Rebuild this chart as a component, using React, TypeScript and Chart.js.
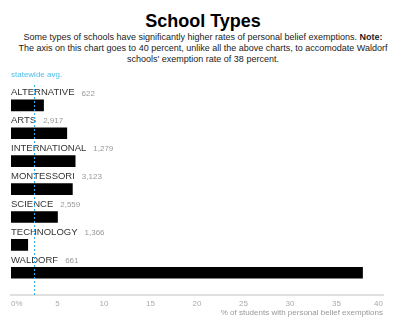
import React, { useEffect, useRef } from "react";
import { Chart, registerables } from "chart.js";

Chart.register(...registerables);

const categories = ["ALTERNATIVE", "ARTS", "INTERNATIONAL", "MONTESSORI", "SCIENCE", "TECHNOLOGY", "WALDORF"];
const schoolCounts = ["622", "2,917", "1,279", "3,123", "2,559", "1,366", "661"];
const exemptionRates = [3.5, 6.0, 6.9, 6.6, 5.0, 1.8, 37.8];
const statewideAvg = 2.5;
const axisMax = 40;
const tickStep = 5;

const FONT = "'Liberation Sans', Arial, Helvetica, sans-serif";

const rowLabelPlugin = {
  id: "rowLabels",
  afterDatasetsDraw(chart: any) {
    const ctx = chart.ctx;
    const meta = chart.getDatasetMeta(0);
    const xs = chart.scales.x;
    const x0 = xs.getPixelForValue(0);
    ctx.save();
    ctx.textBaseline = "middle";
    ctx.textAlign = "left";
    meta.data.forEach((bar: any, i: number) => {
      const y = bar.y - 12.5;
      ctx.font = `9.5px ${FONT}`;
      ctx.fillStyle = "#333";
      ctx.fillText(categories[i], x0, y);
      const w = ctx.measureText(categories[i]).width;
      ctx.font = `8px ${FONT}`;
      ctx.fillStyle = "#999";
      ctx.fillText(schoolCounts[i], x0 + w + 7, y + 0.5);
    });
    const ax = xs.getPixelForValue(statewideAvg);
    const { top, bottom } = chart.chartArea;
    ctx.strokeStyle = "#2fb3e6";
    ctx.lineWidth = 1;
    ctx.setLineDash([2, 2]);
    ctx.beginPath();
    ctx.moveTo(Math.round(ax) + 0.5, top);
    ctx.lineTo(Math.round(ax) + 0.5, bottom + 1);
    ctx.stroke();
    ctx.setLineDash([]);
    ctx.font = `8px ${FONT}`;
    ctx.fillStyle = "#4cbfea";
    ctx.fillText("statewide avg.", x0, top - 10);
    ctx.restore();
  },
};

function BarChart() {
  const ref = useRef<HTMLCanvasElement>(null);
  useEffect(() => {
    if (!ref.current) return;
    const chart = new Chart(ref.current, {
      type: "bar",
      data: {
        datasets: [
          {
            data: exemptionRates.map((v, i) => ({ x: v, y: i })),
            backgroundColor: "#000",
            barThickness: 11,
          },
        ],
      },
      options: {
        indexAxis: "y",
        animation: false,
        responsive: false,
        layout: { padding: { left: 11, right: 23, top: 23, bottom: 9 } },
        plugins: { legend: { display: false }, tooltip: { enabled: false } },
        scales: {
          y: {
            type: "linear",
            reverse: true,
            offset: false,
            min: -0.73,
            max: 6.79,
            display: false,
          },
          x: {
            type: "linear",
            min: 0,
            max: axisMax,
            grid: { display: false, drawTicks: false },
            border: { display: true, color: "#e0e0e0", width: 2 },
            ticks: {
              stepSize: tickStep,
              align: "inner",
              padding: 4,
              color: "#aaa",
              font: { size: 8, family: FONT },
              callback: (v: any) => (v === 0 ? "0%" : String(v)),
            },
            title: {
              display: true,
              text: "% of students with personal belief exemptions",
              align: "end",
              color: "#999",
              font: { size: 8, family: FONT },
              padding: { top: -4, bottom: 0 },
            },
          },
        },
      } as any,
      plugins: [rowLabelPlugin],
    });
    return () => chart.destroy();
  }, []);
  return <canvas ref={ref} width={406} height={265} style={{ display: "block" }} />;
}

export default function App() {
  return (
    <div
      style={{
        position: "fixed",
        left: 0,
        top: 0,
        width: 406,
        height: 327,
        background: "#fff",
        fontFamily: FONT,
        overflow: "hidden",
      }}
    >
      <div
        style={{
          position: "absolute",
          top: 11,
          left: 0,
          width: 406,
          textAlign: "center",
          fontSize: 18,
          lineHeight: "20px",
          fontWeight: "bold",
          color: "#000",
        }}
      >
        School Types
      </div>
      <div
        style={{
          position: "absolute",
          top: 31.5,
          left: 0,
          width: 406,
          textAlign: "center",
          fontSize: 9,
          lineHeight: "11px",
          color: "#222",
          whiteSpace: "nowrap",
        }}
      >
        Some types of schools have significantly higher rates of personal belief exemptions. <b>Note:</b>
        <br />
        The axis on this chart goes to 40 percent, unlike all the above charts, to accomodate Waldorf
        <br />
        schools' exemption rate of 38 percent.
      </div>
      <div style={{ position: "absolute", top: 62, left: 0 }}>
        <BarChart />
      </div>
    </div>
  );
}
